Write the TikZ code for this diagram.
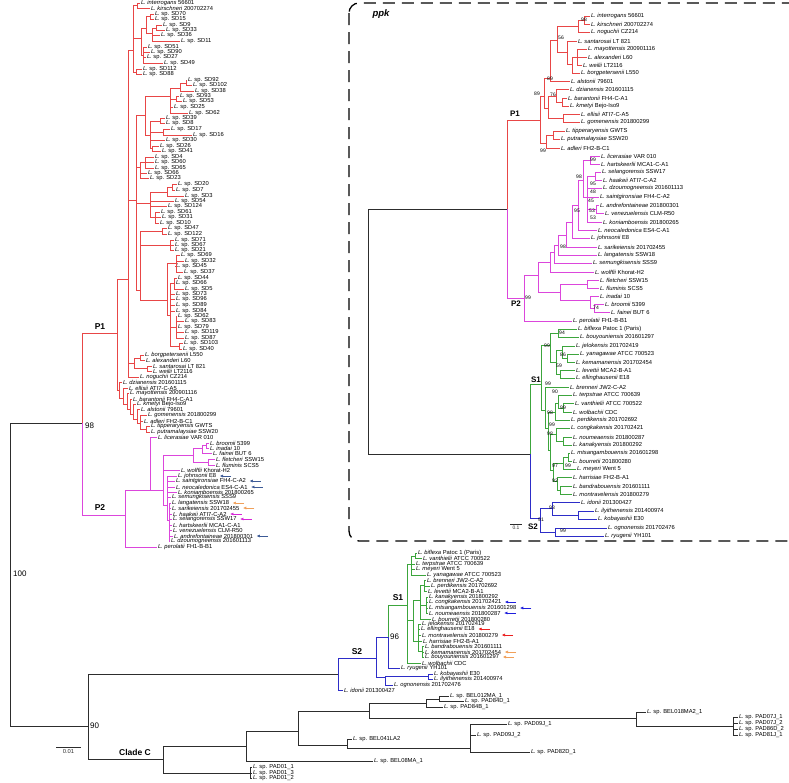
\documentclass[tikz,border=0pt]{standalone}
\usepackage{fontspec}
\setmainfont{Liberation Sans}
\usetikzlibrary{arrows.meta}
\definecolor{pone}{RGB}{232,70,70}
\definecolor{ptwo}{RGB}{220,70,220}
\definecolor{sone}{RGB}{60,165,60}
\definecolor{stwo}{RGB}{45,45,200}
\definecolor{stem}{RGB}{45,45,45}
\definecolor{arblue}{RGB}{30,30,220}
\definecolor{arsteel}{RGB}{60,90,150}
\definecolor{arorange}{RGB}{240,160,90}
\definecolor{arred}{RGB}{235,30,30}
\definecolor{armag}{RGB}{215,40,215}
\newcommand\lep[1]{\textit{L. #1}}
\newcommand\lsp{\textit{L.} sp. }

\begin{document}
\begin{tikzpicture}[x=1pt, y=-1pt,
  br/.style={line width=0.7pt, stem},
  lf/.style={anchor=west, inner sep=0.8pt, font=\fontsize{5.8}{6}\selectfont},
  boot/.style={anchor=west, inner sep=1pt, font=\fontsize{8}{9}\selectfont},
  ib/.style={inner sep=0.5pt, font=\fontsize{5}{5}\selectfont},
  clade/.style={inner sep=1pt, font=\bfseries\fontsize{8.5}{9}\selectfont},
  flag/.style={-{Latex[length=3.4pt,width=3pt]}, line width=0.6pt},
  inset/.style={dash pattern=on 12pt off 7pt, line width=1.3pt, rounded corners=10pt},
]
\useasboundingbox (0,0) rectangle (789,782);

% main tree backbone
\coordinate (root) at (10,574);
\foreach \p/\n/\x/\y/\c in {root/pnode/82/423/stem, root/n90/88/726/stem,
    pnode/p1/117/333/pone, pnode/p2/125/515/ptwo,
    n90/snode/338/674/stem, n90/cladec/163/759/stem}
  {\coordinate (\n) at (\x,\y); \draw[br,\c] (\p) |- (\n);}

% P1
\foreach \p/\n/\x/\y in {p1/k/128/279, k/t/133/50, t/i1/137/5, t/a/141/38,
    a/a1/146/28, a1/a11/150/16, a1/a12/152/33, a12/a13/156/28, a/a2/143/55,
    t/b/136/72, k/sd/136/200, sd/cd/145/115, cd/c/170/96, c/c1/180/88,
    c1/c11/186/83, c/c2/176/99, cd/d/150/135, d/d1/160/121, d/d2/163/132,
    d/d3/152/148, sd/e/140/167, e/e1/145/162, sd/f/150/203, f/f1/167/192,
    f1/f11/172/187, f/f2/155/217, sd/g/140/290, g/g1/162/231, g/g2/170/245,
    g/g3/167/300, g3/g31/176/263, g3/g32/170/315, g32/g33/174/283,
    g32/g34/176/327, g32/g35/179/346, k/bw/134/363, bw/bw1/140/358,
    bw/bw2/147/368, p1/l1/119/390, l1/l2/123/398, l2/l3/127/404,
    l3/l4/130/409, l4/l5/133/414, l5/l6/137/419, l6/l7/140/423, l7/l8/146/429}
  {\coordinate (\n) at (\x,\y); \draw[br,pone] (\p) |- (\n);}
\foreach \p/\n/\x/\y/\t in {
    i1/interrogans/140/3/{\lep{interrogans} 56601},
    i1/kirschneri/150/8/{\lep{kirschneri} 200702274},
    a11/sd70/154/14/{\lsp SD70}, a11/sd15/154/19/{\lsp SD15},
    a13/sd9/162/25/{\lsp SD9}, a13/sd33/165/30/{\lsp SD33},
    a12/sd36/160/35/{\lsp SD36}, a12/sd11/180/41/{\lsp SD11},
    a2/sd51/147/47/{\lsp SD51}, a2/sd90/150/52/{\lsp SD90},
    a2/sd27/146/57/{\lsp SD27}, a2/sd49/163/63/{\lsp SD49},
    b/sd112/142/69/{\lsp SD112}, b/sd88/142/74/{\lsp SD88},
    c11/sd92/187/80/{\lsp SD92}, c11/sd102/192/85/{\lsp SD102},
    c1/sd38/194/91/{\lsp SD38}, c2/sd93/179/96/{\lsp SD93},
    c2/sd53/182/101/{\lsp SD53}, c/sd25/173/107/{\lsp SD25},
    c/sd62a/188/113/{\lsp SD62}, d1/sd39/165/118/{\lsp SD39},
    d1/sd8/165/123/{\lsp SD8}, d2/sd17/170/129/{\lsp SD17},
    d2/sd16/192/135/{\lsp SD16}, d/sd30/165/140/{\lsp SD30},
    d3/sd26/159/146/{\lsp SD26}, d3/sd41/161/151/{\lsp SD41},
    e1/sd4/154/157/{\lsp SD4}, e1/sd60/154/162/{\lsp SD60},
    e1/sd65/154/168/{\lsp SD65}, e/sd66a/147/173/{\lsp SD66},
    e/sd23/149/178/{\lsp SD23}, f11/sd20/177/184/{\lsp SD20},
    f11/sd7/175/190/{\lsp SD7}, f1/sd3/184/196/{\lsp SD3},
    f/sd54/174/201/{\lsp SD54}, f/sd124/167/206/{\lsp SD124},
    f2/sd61/160/212/{\lsp SD61}, f2/sd31/161/217/{\lsp SD31},
    f2/sd10/159/223/{\lsp SD10}, g1/sd47/167/228/{\lsp SD47},
    g1/sd122/167/234/{\lsp SD122}, g2/sd71/174/240/{\lsp SD71},
    g2/sd67/174/245/{\lsp SD67}, g2/sd21/174/250/{\lsp SD21},
    g31/sd69/180/255/{\lsp SD69}, g31/sd32/184/261/{\lsp SD32},
    g31/sd45/175/266/{\lsp SD45}, g31/sd37/183/272/{\lsp SD37},
    g33/sd44/177/278/{\lsp SD44}, g33/sd66b/175/283/{\lsp SD66},
    g33/sd5/184/289/{\lsp SD5}, g32/sd73/175/294/{\lsp SD73},
    g32/sd96/175/299/{\lsp SD96}, g32/sd89/175/305/{\lsp SD89},
    g32/sd84/175/311/{\lsp SD84}, g34/sd62b/177/316/{\lsp SD62},
    g34/sd83/184/321/{\lsp SD83}, g34/sd79/177/327/{\lsp SD79},
    g34/sd119/184/332/{\lsp SD119}, g34/sd87/184/338/{\lsp SD87},
    g35/sd103/183/343/{\lsp SD103}, g35/sd40/182/349/{\lsp SD40},
    bw1/borgpetersenii/144/355/{\lep{borgpetersenii} L550},
    bw1/alexanderi/145/360/{\lep{alexanderi} L60},
    bw2/santarosai/152/366/{\lep{santarosai} LT 821},
    bw2/weilii/152/371/{\lep{weilii} LT2116},
    k/noguchii/139/377/{\lep{noguchii} CZ214},
    l1/dzianensis/122/382/{\lep{dzianensis} 201601115},
    l2/ellisii/128/388/{\lep{ellisii} ATI7-C-A5},
    l3/mayottensis/129/393/{\lep{mayottensis} 200901116},
    l4/barantonii/132/399/{\lep{barantonii} FH4-C-A1},
    l5/kmetyi/136/404/{\lep{kmetyi} Bejo-Iso9},
    l6/alstonii/140/409/{\lep{alstonii} 79601},
    l7/gomenensis/147/415/{\lep{gomenensis} 201800299},
    l7/adleri/143/421/{\lep{adleri} FH2-B-C1},
    l8/tipperaryensis/150/426/{\lep{tipperaryensis} GWTS},
    l8/putramalaysiae/150/432/{\lep{putramalaysiae} SSW20}}
  {\coordinate (\n) at (\x,\y); \draw[br,pone] (\p) |- (\n); \node[lf] (t-\n) at (\n) {\t};}

% P2
\foreach \p/\n/\x/\y in {p2/q/150/490, q/r/163/490, r/bf/193/455,
    bf/bf1/202/448, bf1/bf2/206/445, bf/bf3/208/462, r/rc/167/505, rc/rc2/169/520}
  {\coordinate (\n) at (\x,\y); \draw[br,ptwo] (\p) |- (\n);}
\foreach \p/\n/\x/\y/\t in {
    q/licerasiae/157/437/{\lep{licerasiae} VAR 010},
    bf2/broomii/209/443/{\lep{broomii} 5399},
    bf2/inadai/209/448/{\lep{inadai} 10},
    bf1/fainei/212/453/{\lep{fainei} BUT 6},
    bf3/fletcheri/215/459/{\lep{fletcheri} SSW15},
    bf3/fluminis/215/465/{\lep{fluminis} SCS5},
    r/wolffii/180/470/{\lep{wolffii} Khorat-H2},
    rc/johnsonii/177/476/{\lep{johnsonii} E8},
    rc/saintgironsiae/175/481/{\lep{saintgironsiae} FH4-C-A2},
    rc/neocaledonica/175/487/{\lep{neocaledonica} ES4-C-A1},
    rc/koniamboensis/177/492/{\lep{koniamboensis} 201800265},
    rc/semungkisensis/171/497/{\lep{semungkisensis} SSS9},
    rc2/langatensis/171/503/{\lep{langatensis} SSW18},
    rc2/sarikeiensis/171/508/{\lep{sarikeiensis} 201702455},
    rc2/haakeii/172/514/{\lep{haakeii} ATI7-C-A2},
    rc2/selangorensis/172/519/{\lep{selangorensis} SSW17},
    rc2/hartskeerlii/172/525/{\lep{hartskeerlii} MCA1-C-A1},
    rc2/venezuelensis/172/530/{\lep{venezuelensis} CLM-R50},
    rc2/andrefontaineae/173/536/{\lep{andrefontaineae} 201800301},
    rc2/dzoumogneensis/170/541/{\lep{dzoumogneensis} 201601113},
    p2/perolatii/157/547/{\lep{perolatii} FH1-B-B1}}
  {\coordinate (\n) at (\x,\y); \draw[br,ptwo] (\p) |- (\n); \node[lf] (t-\n) at (\n) {\t};}

% S2 and S1
\foreach \p/\n/\x/\y in {snode/sa/376/658, sa/sc/385/677, sc/kk/428/676, sa/sb/388/637}
  {\coordinate (\n) at (\x,\y); \draw[br,stwo] (\p) |- (\n);}
\foreach \p/\n/\x/\y in {sb/s1/407/605, s1/s1a/411/564, s1a/sv/415/556,
    s1/s1b/413/620, s1b/sb1/420/600, sb1/sb11/424/585, sb1/sb12/426/605,
    s1b/sb2/418/641, sb2/sb21/422/651}
  {\coordinate (\n) at (\x,\y); \draw[br,sone] (\p) |- (\n);}
\foreach \p/\n/\x/\y/\t in {
    sb/ryugenii/400/668/{\lep{ryugenii} YH101},
    kk/kobayashii/433/674/{\lep{kobayashii} E30},
    kk/ilyithenensis/433/679/{\lep{ilyithenensis} 201400974},
    sc/ognonensis/393/685/{\lep{ognonensis} 201702476},
    snode/idonii/343/690/{\lep{idonii} 201300427}}
  {\coordinate (\n) at (\x,\y); \draw[br,stwo] (\p) |- (\n); \node[lf] (t-\n) at (\n) {\t};}
\foreach \p/\n/\x/\y/\t in {
    sv/biflexa/417/553/{\lep{biflexa} Patoc 1 (Paris)},
    sv/vanthielii/422/558/{\lep{vanthielii} ATCC 700522},
    s1a/terpstrae/415/564/{\lep{terpstrae} ATCC 700639},
    s1a/meyeri/415/569/{\lep{meyeri} Went 5},
    s1a/yanagawae/426/575/{\lep{yanagawae} ATCC 700523},
    sb11/brenneri/426/580/{\lep{brenneri} JW2-C-A2},
    sb11/perdikensis/430/586/{\lep{perdikensis} 201702692},
    sb11/levettii/427/591/{\lep{levettii} MCA2-B-A1},
    sb12/kanakyensis/428/597/{\lep{kanakyensis} 201800292},
    sb12/congkakensis/428/602/{\lep{congkakensis} 201702421},
    sb12/mtsangambouensis/428/608/{\lep{mtsangambouensis} 201601298},
    sb12/noumeaensis/428/613/{\lep{noumeaensis} 201800287},
    sb1/bourretii/431/619/{\lep{bourretii} 201800280},
    sb2/jelokensis/421/624/{\lep{jelokensis} 201702419},
    sb2/ellinghausenii/420/629/{\lep{ellinghausenii} E18},
    sb2/montravelensis/421/635/{\lep{montravelensis} 201800279},
    sb2/harrisiae/422/641/{\lep{harrisiae} FH2-B-A1},
    sb21/bandrabouensis/424/646/{\lep{bandrabouensis} 201601111},
    sb21/kemamanensis/424/652/{\lep{kemamanensis} 201702454},
    sb21/bouyouniensis/424/657/{\lep{bouyouniensis} 201601297},
    s1/wolbachii/421/663/{\lep{wolbachii} CDC}}
  {\coordinate (\n) at (\x,\y); \draw[br,sone] (\p) |- (\n); \node[lf] (t-\n) at (\n) {\t};}

% clade C
\foreach \p/\n/\x/\y in {cladec/c1n/246/746, c1n/c2n/298/731, c2n/c3n/369/711,
    c3n/c4n/426/703, c4n/c5n/439/699, c3n/c8n/636/718, c8n/c9n/733/726,
    c2n/c7n/347/745, c7n/c10n/470/748, cladec/cp/250/773}
  {\coordinate (\n) at (\x,\y); \draw[br] (\p) |- (\n);}
\foreach \p/\n/\x/\y/\t in {
    cp/pad011/252/767/{\lsp PAD01\_1}, cp/pad013/252/773/{\lsp PAD01\_3},
    cp/pad012/252/778/{\lsp PAD01\_2}, c1n/bel08/373/761/{\lsp BEL08MA\_1},
    c5n/bel012/449/696/{\lsp BEL012MA\_1}, c5n/pad84d/464/701/{\lsp PAD84D\_1},
    c4n/pad84b/443/707/{\lsp PAD84B\_1}, c8n/bel018/646/712/{\lsp BEL018MA2\_1},
    c9n/pad07j1/738/717/{\lsp PAD07J\_1}, c9n/pad07j2/738/723/{\lsp PAD07J\_2},
    c9n/pad86d2/738/729/{\lsp PAD86D\_2}, c9n/pad81j1/738/735/{\lsp PAD81J\_1},
    c7n/bel041/352/739/{\lsp BEL041LA2}, c10n/pad09j1/507/724/{\lsp PAD09J\_1},
    c10n/pad09j2/476/735/{\lsp PAD09J\_2}, c10n/pad82d1/530/752/{\lsp PAD82D\_1}}
  {\coordinate (\n) at (\x,\y); \draw[br] (\p) |- (\n); \node[lf] (t-\n) at (\n) {\t};}

% marked strains
\foreach \n/\c in {johnsonii/arsteel, saintgironsiae/arsteel,
    neocaledonica/arsteel, langatensis/arorange, sarikeiensis/arorange,
    haakeii/armag, selangorensis/armag, andrefontaineae/arsteel,
    congkakensis/arblue, mtsangambouensis/arblue, noumeaensis/arblue,
    ellinghausenii/arred, montravelensis/arred, kemamanensis/arorange,
    bouyouniensis/arorange}
  \draw[flag,\c] ([xshift=14pt]t-\n.east) -- ([xshift=2.5pt]t-\n.east);

\node[boot] (b100) at (12,574) {100};
\node[boot] (b98) at (84,426) {98};
\node[boot] (b90) at (89,726) {90};
\node[boot] (b96) at (389,637) {96};
\node[clade] (lp1) at (100,327) {P1};
\node[clade] (lp2) at (100,508) {P2};
\node[clade] (ls1) at (398,598) {S1};
\node[clade] (ls2) at (357,652) {S2};
\node[clade] (lcc) at (135,752) {Clade C};
\coordinate (sbl) at (56,747); \coordinate (sbr) at (81,747);
\draw[br] (sbl) -- node[below=1pt, lf, anchor=north] {0.01} (sbr);

% ppk inset
\draw[inset] (349,3) rectangle (805,541);
\node[font=\bfseries\itshape\fontsize{9.5}{10}\selectfont] (ppk) at (381,14) {ppk};
\coordinate (iroot) at (368,330);
\foreach \p/\n/\x/\y/\c in {iroot/ip/507/209/stem, iroot/is/530/454/stem,
    ip/ip1/540/120/pone, ip/ip2/524/298/ptwo, is/is1/541/384/sone, is/is2/540/518/stwo}
  {\coordinate (\n) at (\x,\y); \draw[br,\c] (\p) |- (\n);}
\foreach \p/\n/\x/\y in {ip1/ih/544/96, ih/ie/550/78, ie/ic/557/40,
    ic/ia2/578/26, ia2/ia1/584/20, ic/ib3/567/52, ib3/ib2/572/64,
    ib2/ib1/577/57, ih/idd/548/108, idd/id1/556/96, id1/id0/562/102,
    idd/if1/563/118, ip1/ig/546/143, ig/ig1/553/135}
  {\coordinate (\n) at (\x,\y); \draw[br,pone] (\p) |- (\n);}
\foreach \p/\n/\x/\y/\t in {
    ia1/iinterrogans/590/16/{\lep{interrogans} 56601},
    ia1/ikirschneri/590/24/{\lep{kirschneri} 200702274},
    ia2/inoguchii/590/32/{\lep{noguchii} CZ214},
    ib3/isantarosai/577/41/{\lep{santarosai} LT 821},
    ib1/imayottensis/587/49/{\lep{mayottensis} 200901116},
    ib1/ialexanderi/587/57/{\lep{alexanderi} L60},
    ib1/iweilii/582/65/{\lep{weilii} LT2116},
    ib2/iborgpetersenii/580/73/{\lep{borgpetersenii} L550},
    ie/ialstonii/570/81/{\lep{alstonii} 79601},
    id1/idzianensis/569/89/{\lep{dzianensis} 201601115},
    id0/ibarantonii/567/98/{\lep{barantonii} FH4-C-A1},
    id0/ikmetyi/569/106/{\lep{kmetyi} Bejo-Iso9},
    if1/iellisii/580/114/{\lep{ellisii} ATI7-C-A5},
    if1/igomenensis/580/122/{\lep{gomenensis} 201800299},
    ig1/itipperaryensis/565/131/{\lep{tipperaryensis} GWTS},
    ig1/iputramalaysiae/560/139/{\lep{putramalaysiae} SSW20},
    ig/iadleri/560/148/{\lep{adleri} FH2-B-C1}}
  {\coordinate (\n) at (\x,\y); \draw[br,pone] (\p) |- (\n); \node[lf] (t-\n) at (\n) {\t};}
\foreach \p/\n/\x/\y in {ip2/ipp/538/275, ipp/in7/550/262, in7/in6/554/252,
    in6/in5/558/245, in5/in4/566/235, in4/in3/572/222, in3/in2/578/205,
    in2/in1/583/180, in1/iq1/590/160, in1/im/587/197, im/im1/595/176,
    im/im5/596/209, ipp/io4/560/292, io4/io1/587/284, io4/io3/590/300, io3/io2/594/308}
  {\coordinate (\n) at (\x,\y); \draw[br,ptwo] (\p) |- (\n);}
\foreach \p/\n/\x/\y/\t in {
    iq1/ilicerasiae/600/156/{\lep{licerasiae} VAR 010},
    iq1/ihartskeerlii/600/164/{\lep{hartskeerlii} MCA1-C-A1},
    im1/iselangorensis/601/172/{\lep{selangorensis} SSW17},
    im1/ihaakeii/602/180/{\lep{haakeii} ATI7-C-A2},
    im/idzoumogneensis/602/188/{\lep{dzoumogneensis} 201601113},
    im/isaintgironsiae/599/197/{\lep{saintgironsiae} FH4-C-A2},
    im5/iandrefontaineae/599/205/{\lep{andrefontaineae} 201800301},
    im5/ivenezuelensis/604/213/{\lep{venezuelensis} CLM-R50},
    im/ikoniamboensis/602/222/{\lep{koniamboensis} 201800265},
    in2/ineocaledonica/597/230/{\lep{neocaledonica} ES4-C-A1},
    in3/ijohnsonii/590/238/{\lep{johnsonii} E8},
    in4/isarikeiensis/597/247/{\lep{sarikeiensis} 201702455},
    in5/ilangatensis/597/255/{\lep{langatensis} SSW18},
    in6/isemungkisensis/592/263/{\lep{semungkisensis} SSS9},
    in7/iwolffii/594/272/{\lep{wolffii} Khorat-H2},
    io1/ifletcheri/599/280/{\lep{fletcheri} SSW15},
    io1/ifluminis/599/288/{\lep{fluminis} SCS5},
    io3/iinadai/599/296/{\lep{inadai} 10},
    io2/ibroomii/604/304/{\lep{broomii} 5399},
    io2/ifainei/610/312/{\lep{fainei} BUT 6},
    ip2/iperolatii/572/321/{\lep{perolatii} FH1-B-B1}}
  {\coordinate (\n) at (\x,\y); \draw[br,ptwo] (\p) |- (\n); \node[lf] (t-\n) at (\n) {\t};}
\foreach \p/\n/\x/\y in {is1/is6/550/345, is6/is1a/558/333, is6/is5/556/362,
    is5/is3/562/350, is3/is2b/567/358, is5/is4/560/374, is1/it5/545/410,
    it5/it4/548/428, it4/it3/555/412, it3/it2/558/403, it2/it1/563/408,
    it4/iu3/550/450, iu3/iu2/556/434, iu2/iu1/563/441, iu3/iv5/553/470,
    iv5/iv2/563/463, iv2/iv1/568/457, iv5/iv4/557/481, iv4/iv3/560/490}
  {\coordinate (\n) at (\x,\y); \draw[br,sone] (\p) |- (\n);}
\foreach \p/\n/\x/\y/\t in {
    is1a/ibiflexa/577/329/{\lep{biflexa} Patoc 1 (Paris)},
    is1a/ibouyouniensis/579/337/{\lep{bouyouniensis} 201601297},
    is3/ijelokensis/575/346/{\lep{jelokensis} 201702419},
    is2b/iyanagawae/579/354/{\lep{yanagawae} ATCC 700523},
    is2b/ikemamanensis/575/362/{\lep{kemamanensis} 201702454},
    is4/ilevettii/575/370/{\lep{levettii} MCA2-B-A1},
    is4/iellinghausenii/575/378/{\lep{ellinghausenii} E18},
    it5/ibrenneri/569/387/{\lep{brenneri} JW2-C-A2},
    it2/iterpstrae/572/395/{\lep{terpstrae} ATCC 700639},
    it1/ivanthielii/574/403/{\lep{vanthielii} ATCC 700522},
    it1/iwolbachii/572/412/{\lep{wolbachii} CDC},
    it3/iperdikensis/570/420/{\lep{perdikensis} 201702692},
    iu2/icongkakensis/570/428/{\lep{congkakensis} 201702421},
    iu1/inoumeaensis/572/437/{\lep{noumeaensis} 201800287},
    iu1/ikanakyensis/572/445/{\lep{kanakyensis} 201800292},
    iv1/imtsangambouensis/570/453/{\lep{mtsangambouensis} 201601298},
    iv1/ibourretii/572/461/{\lep{bourretii} 201800280},
    iv2/imeyeri/576/469/{\lep{meyeri} Went 5},
    iv4/iharrisiae/572/477/{\lep{harrisiae} FH2-B-A1},
    iv3/ibandrabouensis/572/486/{\lep{bandrabouensis} 201601111},
    iv3/imontravelensis/572/494/{\lep{montravelensis} 201800279}}
  {\coordinate (\n) at (\x,\y); \draw[br,sone] (\p) |- (\n); \node[lf] (t-\n) at (\n) {\t};}
\foreach \p/\n/\x/\y in {is2/iw1/552/508, iw1/iw3/578/515, is2/iw2/555/532}
  {\coordinate (\n) at (\x,\y); \draw[br,stwo] (\p) |- (\n);}
\foreach \p/\n/\x/\y/\t in {
    iw1/iidonii/580/502/{\lep{idonii} 201300427},
    iw3/iilyithenensis/594/511/{\lep{ilyithenensis} 201400974},
    iw3/ikobayashii/597/519/{\lep{kobayashii} E30},
    iw2/iognonensis/607/528/{\lep{ognonensis} 201702476},
    iw2/iryugenii/604/536/{\lep{ryugenii} YH101}}
  {\coordinate (\n) at (\x,\y); \draw[br,stwo] (\p) |- (\n); \node[lf] (t-\n) at (\n) {\t};}

% inset support values and labels
\foreach \x/\y/\v in {584/20/98, 561/38/56, 550/79/89, 553/95/76, 537/94/89,
    543/151/99, 593/160/99, 579/177/98, 593/184/95, 593/192/48, 591/201/45,
    592/211/53, 593/218/53, 577/211/95, 563/247/98, 528/298/99, 596/308/74,
    562/333/94, 547/346/99, 563/355/86, 559/366/59, 548/384/99, 555/392/90,
    563/408/99, 550/413/98, 552/425/99, 550/434/98, 555/466/97, 568/466/99,
    555/481/92, 552/508/93, 541/520/91, 563/531/99}
  \node[ib] (bs-\x-\y) at (\x,\y) {\v};
\node[clade, font=\bfseries\fontsize{8}{8}\selectfont] (ilp1) at (515,114) {P1};
\node[clade, font=\bfseries\fontsize{8}{8}\selectfont] (ilp2) at (516,304) {P2};
\node[clade, font=\bfseries\fontsize{8}{8}\selectfont] (ils1) at (536,380) {S1};
\node[clade, font=\bfseries\fontsize{8}{8}\selectfont] (ils2) at (533,527) {S2};
\coordinate (isbl) at (510,524); \coordinate (isbr) at (522,524);
\draw[br] (isbl) -- node[below=1pt, ib, anchor=north] {0.1} (isbr);
\end{tikzpicture}
\end{document}
